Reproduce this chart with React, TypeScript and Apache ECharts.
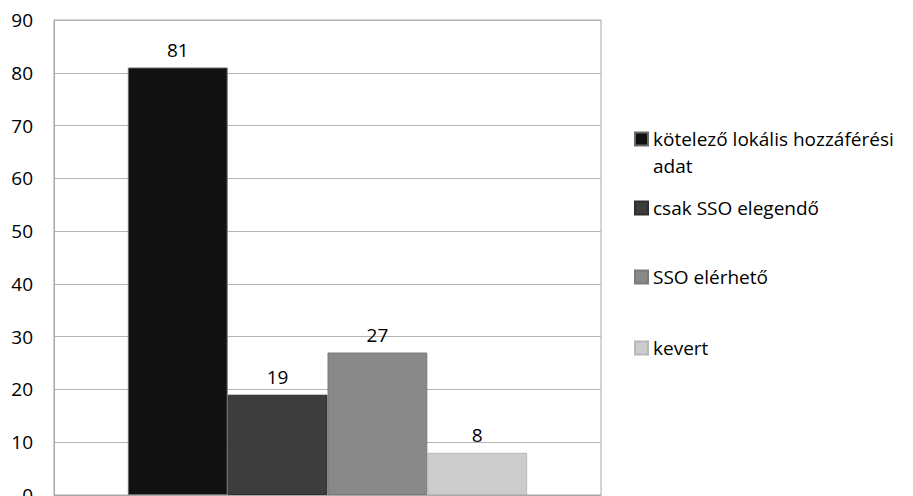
import React, { useEffect, useRef } from 'react';
import * as echarts from 'echarts';

const categories = [''];
const seriesNames = ['kötelező lokális hozzáférési adat', 'csak SSO elegendő', 'SSO elérhető', 'kevert'];
const legendLabels = [' \nkötelező lokális hozzáférési\nadat', 'csak SSO elegendő', 'SSO elérhető', 'kevert'];
const seriesValues = [81, 19, 27, 8];
const seriesColors = ['#111111', '#3d3d3d', '#898989', '#cccccc'];
const seriesBorders = ['#6a6a6a', '#2e2e2e', '#7a7a7a', '#b8b8b8'];
const yMin = 0;
const yMax = 90;
const yInterval = 10;

const FONT = '"Open Sans", "Liberation Sans", sans-serif';

export default function App() {
  const ref = useRef<HTMLDivElement>(null);
  useEffect(() => {
    if (!ref.current) return;
    const chart = echarts.init(ref.current, undefined, { renderer: 'svg' });
    const legendCenters = [139, 208, 277, 348];
    chart.setOption({
      animation: false,
      backgroundColor: '#ffffff',
      grid: {
        left: 54,
        right: 312,
        top: 20,
        bottom: 1,
        show: true,
        borderColor: '#a8a8a8',
        borderWidth: 1,
        containLabel: false,
        outerBoundsMode: 'none',
      },
      xAxis: {
        type: 'category',
        data: categories,
        axisLine: { show: true, lineStyle: { color: '#a8a8a8' } },
        axisTick: { show: false },
        axisLabel: { show: false },
      },
      yAxis: {
        type: 'value',
        min: yMin,
        max: yMax,
        interval: yInterval,
        axisLine: { show: true, lineStyle: { color: '#a8a8a8' } },
        axisTick: { show: false },
        axisLabel: { fontSize: 19, color: '#000', fontFamily: FONT, margin: 21 },
        splitLine: { show: true, lineStyle: { color: '#b4b4b4', width: 1 } },
      },
      legend: seriesNames.map((n, i) => ({
        data: [n],
        orient: 'vertical',
        left: 634,
        top: i === 0 ? legendCenters[i] - 40.5 : legendCenters[i] - 13.5,
        padding: 0,
        itemWidth: 13,
        itemHeight: 13,
        itemGap: 0,
        icon: 'rect',
        selectedMode: false,
        formatter: () => legendLabels[i],
        textStyle: {
          fontSize: 19,
          color: '#000',
          fontFamily: FONT,
          lineHeight: 27,
        },
      })),
      series: seriesNames.map((n, i) => ({
        name: n,
        type: 'bar',
        data: [seriesValues[i]],
        barGap: '0%',
        barCategoryGap: '27%',
        itemStyle: { color: seriesColors[i], borderColor: seriesBorders[i], borderWidth: 1 },
        label: {
          show: true,
          position: 'top',
          distance: 8,
          fontSize: 19,
          color: '#000',
          fontFamily: FONT,
        },
      })),
    });
    return () => chart.dispose();
  }, []);
  return <div ref={ref} style={{ position: 'fixed', left: 0, top: 0, width: 913, height: 496 }} />;
}
